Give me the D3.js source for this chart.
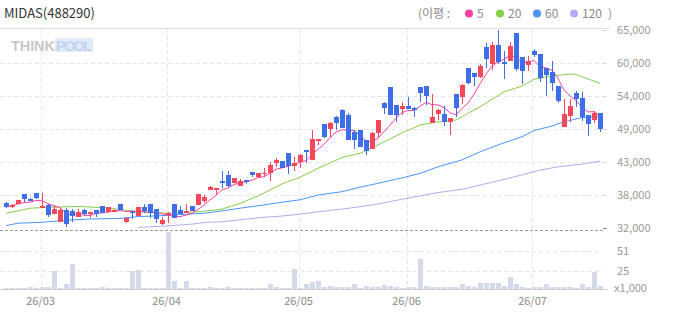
<!DOCTYPE html>
<html>
<head>
<meta charset="utf-8">
<script src="https://cdn.jsdelivr.net/npm/d3@7"></script>
<style>
    body { margin: 0; background: #fff; }
    svg { display: block; font-family: "Noto Sans CJK KR", "Noto Sans", sans-serif; }
</style>
</head>
<body>
<div id="chart-container"></div>
<script>
// daily candles, oldest first (100 trading days)
const opens = [36200,35550,36050,37700,36950,37900,35650,35850,34450,33100,
    35000,34950,33950,35000,34350,35000,35650,34750,34750,36050,
    33100,34750,34100,35600,36050,35200,32750,34350,36050,35050,
    34500,35700,35900,36600,38450,38450,39900,40900,39550,39100,
    40050,41350,40500,41100,41150,42900,43200,44550,42450,43000,
    45050,43450,46800,49400,48550,50600,51700,50900,48100,48400,
    46700,45200,47850,52950,55600,52550,51900,52400,52050,55550,
    55700,49600,51100,51050,49650,54400,53850,58700,57900,57250,
    62150,59350,62550,59750,59900,64500,60550,59200,61550,61050,
    58700,58050,55700,48950,50700,54550,53700,50900,50050,51250];
const highs = [36350,36050,36750,37750,37100,37950,37900,36000,35900,35450,
    35450,35200,35200,35150,34750,35000,35700,35550,35200,36100,
    33700,35050,35550,36050,36050,35200,33950,34750,36050,35700,
    36050,35750,37700,37550,39050,38750,41550,41550,40350,40200,
    40050,41350,41150,42000,43100,43650,43200,44550,43950,44400,
    45050,48400,46850,49400,49750,50750,51850,51250,48400,48400,
    46700,48100,50050,53100,55600,52550,53100,53850,52200,55550,
    55700,54400,51950,52400,50350,54400,56100,58700,57900,59350,
    62850,63100,65050,61550,63100,64500,60550,60700,61900,61050,
    58700,59900,55700,53600,53550,54900,54750,50900,51600,51250];
const lows = [35450,35400,36000,36450,36550,36850,35650,33900,34450,33100,
    32150,33000,33950,34100,33750,33950,34500,34600,34700,35000,
    32950,33500,34100,34500,33750,32850,32500,32850,33750,34400,
    34500,34950,35900,36150,38350,37550,38750,38950,39550,39100,
    39350,40600,40500,40500,39900,42250,42050,41000,41550,42100,
    42850,43450,45900,47000,47000,48400,48650,46700,45200,45600,
    44200,45200,47100,51050,50900,49750,50900,51950,50600,53050,
    52550,49600,50000,49100,47550,50600,52700,56000,55700,57000,
    58750,58400,59350,56950,59900,58200,56050,58200,60500,56450,
    54050,54900,52850,48950,49750,52250,49900,47400,49600,48100];
const closes = [35600,35900,36700,36950,36600,37000,35700,34200,35150,35050,
    32750,34100,34700,34400,34700,34450,34600,35550,35100,35050,
    33700,34700,35550,34900,34500,33600,33450,34550,33750,34400,
    34900,34950,37700,37250,38900,38700,39550,39100,40350,39950,
    39850,40900,41150,41250,42550,43350,42050,42450,42950,44200,
    44850,46900,46850,47250,49600,49600,48750,46700,46700,45600,
    44950,47850,50050,52100,50900,50900,52400,51950,51950,54550,
    54050,50550,51700,49750,50350,52100,55900,56250,57150,59000,
    60200,62550,59750,59350,62400,58550,58200,59900,60900,57100,
    57550,56250,53250,51050,52400,53550,50600,49400,51250,48550];
// volume, thousands of shares
const volumes = [3,2.6,3,3,4,3,4,4,25,2.6,
    8.3,34.3,2.6,2.6,2.6,3,4,2.6,2.6,2.6,
    2.6,25,26.3,2.6,2.6,2.6,2.6,76.8,11.9,2.6,
    11.9,2.6,2.6,3,4.4,2.6,2.6,4.4,2.6,2.6,
    2.6,2.6,2.6,2.6,7.9,4.4,2.6,2.6,28,2.6,
    7.9,10.5,12.3,4,5.3,4,4,4,7.9,2.6,
    5.3,4,4,6.6,5.3,4,2.6,4,4,40.8,
    5.3,4,4,4,4,4,7.9,5.3,4,9.2,
    9.2,9.2,9.2,5.3,17.1,7.9,4,2.6,4,4,
    7.9,4,4,4,4,2.6,7.9,4,23.7,5.3];

// moving averages: [day index, price]
const ma20 = [[0,34500],[2,34900],[4,35350],[6,35450],[12,35650],[16,35450],[19,35150],[21,34900],
    [24,34600],[28,34500],[31,34700],[33,34850],[36,35200],[39,36150],[42,37400],[46,39400],
    [49,40500],[52,42000],[56,43800],[59,44500],[62,45900],[66,47900],[69,49200],[72,49750],
    [75,50050],[79,52250],[83,54750],[86,55700],[88,56850],[91,57400],[94,57700],[95,57650],[99,56150]];
const ma60 = [[0,32450],[2,32850],[6,33000],[10,33350],[14,33550],[19,33650],[22,33950],[27,34150],
    [30,34350],[33,34500],[36,34900],[39,35350],[42,35750],[46,36350],[49,36750],[52,37550],
    [56,38100],[59,38850],[62,39500],[66,40400],[69,41150],[72,42250],[76,43400],[79,44750],
    [83,46250],[86,47250],[88,48300],[91,49050],[93,49750],[96,50450],[99,50600]];
const ma120 = [[22,32150],[27,32400],[31,32700],[33,32950],[36,33100],[39,33400],[42,33750],
    [46,34050],[49,34350],[52,34750],[56,35200],[59,35600],[62,36050],[66,36850],[69,37400],
    [72,37950],[76,38500],[79,39200],[83,40150],[86,40900],[89,41700],[92,42250],[96,42700],[99,43200]];

const priceTicks = [32000, 37500, 43000, 48500, 54000, 59500, 65000];
const priceTickLabels = ["32,000", "38,000", "43,000", "49,000", "54,000", "60,000", "65,000"];
const volTicks = [25.5, 51];
const volTickLabels = ["25", "51"];
const monthStarts = [6, 27, 49, 67, 88];
const monthLabels = ["26/03", "26/04", "26/05", "26/06", "26/07"];

const maLegend = ["5", "20", "60", "120"];
const maColors = ["#ff3fa2", "#86cf4a", "#4d95f5", "#b3acf0"];
const upColor = "#f6475b";
const downColor = "#3f6fe8";

const svgWidth = 673;
const svgHeight = 315;

const svg = d3.select("#chart-container")
    .append("svg")
    .attr("width", svgWidth)
    .attr("height", svgHeight);

const days = d3.range(closes.length);

const scaleX = d3.scaleLinear()
    .domain([0, closes.length - 1])
    .range([6, 600]);

const scaleY = d3.scaleLinear()
    .domain([32000, 65000])
    .range([228.3, 30.3]);

const scaleVol = d3.scaleLinear()
    .domain([0, 51])
    .range([290, 251.3]);

const volBase = 289;

// grid
svg.append("line")
    .attr("x1", 0).attr("x2", 610)
    .attr("y1", 28.5).attr("y2", 28.5)
    .attr("stroke", "#dedede");

svg.selectAll(".hgrid")
    .data(priceTicks.slice(1, -1))
    .enter()
    .append("line")
    .attr("x1", 0).attr("x2", 603)
    .attr("y1", d => Math.round(scaleY(d)) + 0.5)
    .attr("y2", d => Math.round(scaleY(d)) + 0.5)
    .attr("stroke", "#e6e6e6")
    .attr("stroke-dasharray", "4,3");

svg.selectAll(".vgrid-vol")
    .data(volTicks)
    .enter()
    .append("line")
    .attr("x1", 0).attr("x2", 603)
    .attr("y1", d => Math.round(scaleVol(d)) + 0.5)
    .attr("y2", d => Math.round(scaleVol(d)) + 0.5)
    .attr("stroke", "#e6e6e6")
    .attr("stroke-dasharray", "4,3");

svg.selectAll(".vgrid")
    .data(monthStarts)
    .enter()
    .append("line")
    .attr("x1", d => Math.round(scaleX(d) - 1.5) + 0.5)
    .attr("x2", d => Math.round(scaleX(d) - 1.5) + 0.5)
    .attr("y1", 29).attr("y2", volBase)
    .attr("stroke", "#e6e6e6")
    .attr("stroke-dasharray", "4,3");

// watermark
const logo = svg.append("g").attr("transform", "translate(11,51)");
logo.append("text")
    .attr("font-family", "Liberation Sans, Arial, sans-serif")
    .attr("font-weight", "bold")
    .attr("font-size", "14.5px")
    .attr("fill", "#c8c8c8")
    .attr("textLength", 44)
    .text("THINK");
logo.append("rect")
    .attr("x", 44).attr("y", -13)
    .attr("width", 38).attr("height", 14)
    .attr("fill", "#e4ebf8");
logo.append("text")
    .attr("x", 45)
    .attr("font-family", "Liberation Sans, Arial, sans-serif")
    .attr("font-weight", "bold")
    .attr("font-size", "14.5px")
    .attr("fill", "#c3d3f0")
    .attr("textLength", 36)
    .text("POOL");

// volume bars
svg.selectAll(".vol")
    .data(days)
    .enter()
    .append("rect")
    .attr("x", i => scaleX(i) - 2)
    .attr("width", 5)
    .attr("y", i => Math.min(scaleVol(volumes[i]), volBase - 1))
    .attr("height", i => Math.max(1, volBase - scaleVol(volumes[i])))
    .attr("fill", "#d4dae9")
    .attr("shape-rendering", "crispEdges");

// separators
svg.append("line")
    .attr("x1", 0).attr("x2", 605)
    .attr("y1", 230.5).attr("y2", 230.5)
    .attr("stroke", "#9a9a9a")
    .attr("stroke-dasharray", "3,2");

svg.append("line")
    .attr("x1", 0).attr("x2", 608)
    .attr("y1", volBase + 0.5).attr("y2", volBase + 0.5)
    .attr("stroke", "#cfcfcf");

// moving averages
const maLine = d3.line()
    .x(d => scaleX(d[0]))
    .y(d => scaleY(d[1]));

const ma5 = days.map(i => {
    const win = closes.slice(Math.max(0, i - 4), i + 1);
    return [i, d3.mean(win)];
});

[ma120, ma60, ma20, ma5].forEach((series, k) => {
    svg.append("path")
        .datum(series)
        .attr("d", maLine)
        .attr("fill", "none")
        .attr("stroke", maColors[3 - k])
        .attr("stroke-width", 1);
});

// candles
const candleColor = i => closes[i] >= opens[i] ? upColor : downColor;

svg.selectAll(".wick")
    .data(days)
    .enter()
    .append("line")
    .attr("x1", i => scaleX(i) + 0.5)
    .attr("x2", i => scaleX(i) + 0.5)
    .attr("y1", i => scaleY(highs[i]))
    .attr("y2", i => scaleY(lows[i]))
    .attr("stroke", candleColor)
    .attr("shape-rendering", "crispEdges");

svg.selectAll(".body")
    .data(days)
    .enter()
    .append("rect")
    .attr("x", i => scaleX(i) - 2)
    .attr("width", 5)
    .attr("y", i => scaleY(Math.max(opens[i], closes[i])))
    .attr("height", i => Math.max(1.5, Math.abs(scaleY(opens[i]) - scaleY(closes[i]))))
    .attr("fill", candleColor)
    .attr("shape-rendering", "crispEdges");

// right axis
svg.selectAll(".ptick")
    .data(priceTicks)
    .enter()
    .append("line")
    .attr("x1", 603).attr("x2", 607)
    .attr("y1", d => Math.round(scaleY(d)) + 0.5)
    .attr("y2", d => Math.round(scaleY(d)) + 0.5)
    .attr("stroke", d => d === 32000 ? "#888" : "#d8d8d8");

svg.selectAll(".plabel")
    .data(priceTicks)
    .enter()
    .append("text")
    .attr("x", 617)
    .attr("y", d => scaleY(d) + 4)
    .attr("font-size", "11px")
    .attr("fill", "#9a9a9a")
    .text((d, k) => priceTickLabels[k]);

svg.selectAll(".vlabel")
    .data(volTicks)
    .enter()
    .append("text")
    .attr("x", 617)
    .attr("y", d => scaleVol(d) + 4)
    .attr("font-size", "11px")
    .attr("fill", "#9a9a9a")
    .text((d, k) => volTickLabels[k]);

svg.append("text")
    .attr("x", 614)
    .attr("y", 292)
    .attr("font-size", "11px")
    .attr("fill", "#9a9a9a")
    .text("x1,000");

// month labels
svg.selectAll(".mlabel")
    .data(monthStarts)
    .enter()
    .append("text")
    .attr("x", d => scaleX(d) - 1.5)
    .attr("y", 305)
    .attr("text-anchor", "middle")
    .attr("font-size", "11px")
    .attr("fill", "#8a8a8a")
    .text((d, k) => monthLabels[k]);

// header
svg.append("text")
    .attr("x", 4)
    .attr("y", 18)
    .attr("font-size", "13px")
    .attr("fill", "#333")
    .text("MIDAS(488290)");

const legend = svg.append("g").attr("font-size", "12px").attr("fill", "#8a8a8a");
legend.append("text").attr("x", 418).attr("y", 18).text("(이평 :");
const dotX = [469, 500, 537, 574];
dotX.forEach((dx, k) => {
    legend.append("circle")
        .attr("cx", dx).attr("cy", 13.5).attr("r", 4)
        .attr("fill", maColors[k]);
    legend.append("text")
        .attr("x", dx + 8).attr("y", 18)
        .text(maLegend[k]);
});
legend.append("text").attr("x", 608).attr("y", 18).text(")");
</script>
</body>
</html>
